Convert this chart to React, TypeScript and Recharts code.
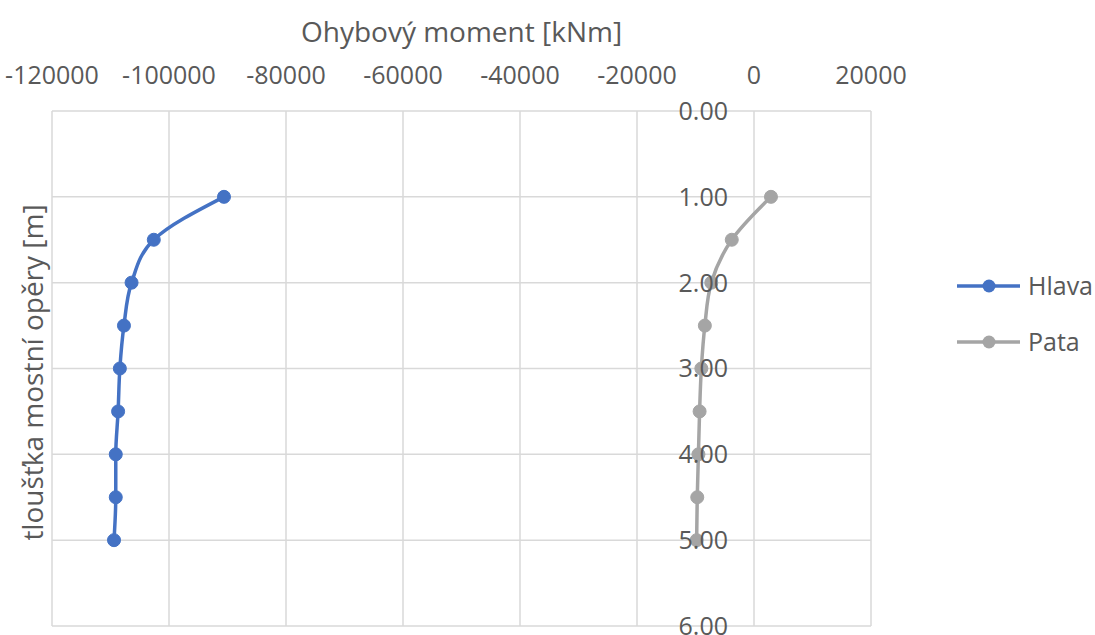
import React from 'react';
import { LineChart, Line, XAxis, YAxis, CartesianGrid, Legend, ReferenceDot } from 'recharts';

const depths = [1, 1.5, 2, 2.5, 3, 3.5, 4, 4.5, 5];
const hlava = [-90600, -102600, -106400, -107700, -108400, -108700, -109100, -109100, -109400];
const pata = [2900, -3800, -7300, -8400, -9000, -9300, -9500, -9700, -9800];
const xTicks = [-120000, -100000, -80000, -60000, -40000, -20000, 0, 20000];
const yTicks = [0, 1, 2, 3, 4, 5, 6];
const seriesNames = ['Hlava', 'Pata'];
const xTitle = 'Ohybový moment [kNm]';
const yTitle = 'tloušťka mostní opěry [m]';

const data = depths.map((d, i) => ({ depth: d, hlava: hlava[i], pata: pata[i] }));

const FONT = '"Open Sans", sans-serif';
const TEXT = '#595959';
const BLUE = '#4472C4';
const GRAY = '#A5A5A5';

const renderLegend = (props: any) => {
  const payload = props.payload || [];
  return (
    <svg width={138} height={110} style={{ overflow: 'visible' }}>
      {payload.map((e: any, i: number) => {
        const cy = 24 + i * 56;
        return (
          <g key={e.value}>
            <line x1={0} x2={63} y1={cy} y2={cy} stroke={e.color} strokeWidth={3.5} />
            <circle cx={32} cy={cy} r={6.5} fill={e.color} />
            <text x={71} y={cy + 9} fontSize={25} fill={TEXT} fontFamily={FONT}>{e.value}</text>
          </g>
        );
      })}
    </svg>
  );
};

const XTitle = (p: any) => {
  const vb = p.viewBox;
  return (
    <text x={vb.x + vb.width / 2} y={vb.y + 42} textAnchor="middle" fontSize={28} fill={TEXT} fontFamily={FONT}>
      {xTitle}
    </text>
  );
};

const YTitle = (p: any) => {
  const vb = p.viewBox;
  const cx = vb.x + vb.width - 9;
  const cy = vb.y + vb.height / 2 + 4;
  return (
    <text x={cx} y={cy} transform={`rotate(-90 ${cx} ${cy})`} textAnchor="middle" fontSize={28} fill={TEXT} fontFamily={FONT}>
      {yTitle}
    </text>
  );
};

const EmptyTick = () => <g />;

export default function App() {
  return (
    <div style={{ position: 'absolute', left: 0, top: 0, fontFamily: FONT, background: '#fff' }}>
      <LineChart
        width={1095}
        height={635}
        layout="vertical"
        data={data}
        margin={{ top: 0, right: 224, bottom: 9, left: 0 }}
      >
        <CartesianGrid stroke="#d9d9d9" strokeWidth={1.5} />
        <XAxis
          type="number"
          orientation="top"
          domain={[-120000, 20000]}
          ticks={xTicks}
          interval={0}
          height={111}
          axisLine={false}
          tickLine={false}
          tickSize={0}
          tickMargin={27.5}
          tick={{ fontSize: 25, fill: TEXT, fontFamily: FONT }}
          label={{ content: XTitle }}
        />
        <YAxis
          type="number"
          dataKey="depth"
          domain={[0, 6]}
          ticks={yTicks}
          interval={0}
          width={52}
          axisLine={false}
          tickLine={false}
          tick={EmptyTick}
          label={{ content: YTitle }}
        />
        <Line
          dataKey="hlava"
          name={seriesNames[0]}
          type="monotone"
          stroke={BLUE}
          strokeWidth={3.5}
          dot={{ r: 6.5, fill: BLUE, stroke: BLUE, strokeWidth: 1 }}
          activeDot={false}
          isAnimationActive={false}
        />
        <Line
          dataKey="pata"
          name={seriesNames[1]}
          type="monotone"
          stroke={GRAY}
          strokeWidth={3.5}
          dot={{ r: 6.5, fill: GRAY, stroke: GRAY, strokeWidth: 1 }}
          activeDot={false}
          isAnimationActive={false}
        />
        {yTicks.map((t) => (
          <ReferenceDot
            key={t}
            x={0}
            y={t}
            r={0}
            fill="none"
            stroke="none"
            ifOverflow="visible"
            label={{ value: t.toFixed(2), position: 'left', offset: 26, fontSize: 25, fill: TEXT, fontFamily: FONT }}
          />
        ))}
        <Legend
          layout="horizontal"
          align="center"
          verticalAlign="middle"
          content={renderLegend}
          wrapperStyle={{ position: 'absolute', left: 957, top: 262, width: 138, height: 110 }}
        />
      </LineChart>
    </div>
  );
}
